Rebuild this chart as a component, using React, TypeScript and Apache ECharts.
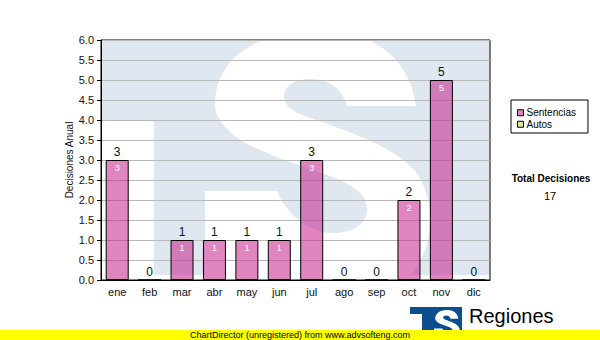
import React, { useEffect, useRef } from "react";
import * as echarts from "echarts";

const months = ["ene", "feb", "mar", "abr", "may", "jun", "jul", "ago", "sep", "oct", "nov", "dic"];
const sentencias = [3, 0, 1, 1, 1, 1, 3, 0, 0, 2, 5, 0];
const autos = [0, 0, 0, 0, 0, 0, 0, 0, 0, 0, 0, 0];
const seriesNames = ["Sentencias", "Autos"];
const yAxisName = "Decisiones Anual";
const yMin = 0;
const yMax = 6;
const yInterval = 0.5;
const totalTitle = "Total Decisiones";
const footerText = "ChartDirector (unregistered) from www.advsofteng.com";
const brandText = "Regiones";

const FONT = "Liberation Sans, Arial, sans-serif";

const S_PATH =
  "M215,105 C215,58 258,30 320,30 C372,30 410,58 416,106 L347,106 C343,90 330,79 311,79 C292,79 284,88 284,96 C284,107 296,113 310,118 C345,130 400,148 418,175 C436,203 434,250 410,275 L400,292 L205,292 L205,191 L277,191 C285,210 305,233 333,233 C355,233 368,222 367,208 C366,192 350,184 330,176 C290,162 245,148 228,130 C218,120 215,112 215,105 Z";

let registered = false;
function registerShapes() {
  if (registered) return;
  echarts.graphic.registerShape("wmS", echarts.graphic.extendPath(S_PATH, {}));
  registered = true;
}

export default function App() {
  const ref = useRef<HTMLDivElement>(null);

  useEffect(() => {
    if (!ref.current) return;
    registerShapes();
    const chart = echarts.init(ref.current, null, { renderer: "svg" });
    const total = sentencias.reduce((a, b) => a + b, 0) + autos.reduce((a, b) => a + b, 0);

    const wmBlue = "#dfe8f0";
    const logoBlue = "#0b4d8e";

    const option: any = {
      animation: false,
      backgroundColor: "#ffffff",
      grid: {
        left: 101,
        right: 110,
        top: 40,
        bottom: 60,
        show: true,
        borderColor: "#000",
        borderWidth: 1,
        backgroundColor: "transparent",
      },
      legend: {
        orient: "vertical",
        left: 511,
        top: 100,
        width: 81,
        data: seriesNames,
        icon: "rect",
        itemWidth: 6,
        itemHeight: 6,
        itemGap: 0,
        padding: [7, 12, 3, 6],
        borderColor: "#000",
        borderWidth: 1,
        backgroundColor: "#fff",
        itemStyle: { borderColor: "#000", borderWidth: 1 },
        textStyle: { fontFamily: FONT, fontSize: 10, color: "#000", lineHeight: 11.5, padding: [0, 0, 0, -2] },
      },
      xAxis: {
        type: "category",
        data: months,
        axisLine: { lineStyle: { color: "#000", width: 1 } },
        axisTick: { alignWithLabel: true, length: 4, lineStyle: { color: "#000" } },
        axisLabel: { fontFamily: FONT, fontSize: 11, color: "#111", margin: 6 },
      },
      yAxis: {
        type: "value",
        min: yMin,
        max: yMax,
        interval: yInterval,
        name: yAxisName,
        nameLocation: "middle",
        nameGap: 27,
        nameMoveOverlap: false,
        nameTextStyle: { fontFamily: FONT, fontSize: 10, color: "#111" },
        axisLine: { show: true, lineStyle: { color: "#000", width: 1 } },
        axisTick: { show: true, length: 4, lineStyle: { color: "#000" } },
        axisLabel: {
          fontFamily: FONT,
          fontSize: 11,
          color: "#111",
          margin: 7,
          formatter: (v: number) => v.toFixed(1),
        },
        splitLine: { show: true, lineStyle: { color: "#b8b8b8", width: 1 } },
      },
      series: [
        {
          name: seriesNames[0],
          type: "bar",
          stack: "total",
          data: sentencias,
          barWidth: 23,
          itemStyle: { color: "rgba(200,40,145,0.57)", borderColor: "#000", borderWidth: 1 },
          label: {
            show: true,
            position: "insideTop",
            distance: 3,
            fontFamily: FONT,
            fontSize: 9,
            color: "#fff",
            formatter: (p: any) => (p.value ? String(p.value) : ""),
          },
          z: 3,
        },
        {
          name: seriesNames[1],
          type: "bar",
          stack: "total",
          data: autos,
          barWidth: 23,
          itemStyle: { color: "#d4eca0", borderColor: "#000", borderWidth: 0 },
          label: {
            show: true,
            position: "top",
            distance: 2,
            fontFamily: FONT,
            fontSize: 12,
            color: "#111",
            formatter: (p: any) => String(sentencias[p.dataIndex] + autos[p.dataIndex]),
          },
          z: 3,
        },
      ],
      graphic: [
        // watermark
        { type: "rect", z: -10, shape: { x: 101, y: 41, width: 389, height: 234 }, style: { fill: wmBlue } },
        { type: "rect", z: -9, shape: { x: 101, y: 120, width: 53, height: 160 }, style: { fill: "#fff" } },
        { type: "wmS", z: -9, x: 0, y: 0, scaleX: 1, scaleY: 1, style: { fill: "#fff" } },
        // totals
        {
          type: "text",
          x: 551,
          y: 178,
          style: { text: totalTitle, font: `bold 10px ${FONT}`, fill: "#000", align: "center", verticalAlign: "middle" },
        },
        {
          type: "text",
          x: 550,
          y: 196,
          style: { text: String(total), font: `11px ${FONT}`, fill: "#000", align: "center", verticalAlign: "middle" },
        },
        // brand logo
        { type: "rect", z: 5, shape: { x: 410, y: 307, width: 52, height: 33 }, style: { fill: logoBlue } },
        { type: "rect", z: 6, shape: { x: 410, y: 314, width: 12, height: 26 }, style: { fill: "#fff" } },
        { type: "wmS", z: 6, x: 410.5, y: 306.5, scaleX: 0.115, scaleY: 0.115, style: { fill: "#fff" } },
        {
          type: "text",
          z: 6,
          x: 469,
          y: 316,
          style: { text: brandText, font: `20px ${FONT}`, fill: "#000", align: "left", verticalAlign: "middle" },
        },
        // footer
        { type: "rect", z: 20, shape: { x: 0, y: 330, width: 600, height: 10 }, style: { fill: "#ffff00" } },
        {
          type: "text",
          z: 21,
          x: 300,
          y: 335,
          style: { text: footerText, font: `9px ${FONT}`, fill: "#000", align: "center", verticalAlign: "middle" },
        },
      ],
    };

    chart.setOption(option);
    return () => chart.dispose();
  }, []);

  return (
    <div
      ref={ref}
      style={{ position: "absolute", left: 0, top: 0, width: 600, height: 340, background: "#fff" }}
    />
  );
}
